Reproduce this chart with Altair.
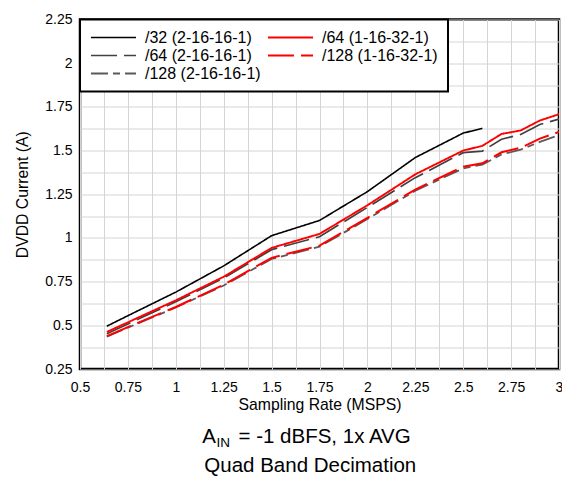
import altair as alt
import pandas as pd

# ---- data ----
# legend order (column-major in the legend box)
series_names = ["/32 (2-16-16-1)", "/64 (2-16-16-1)", "/128 (2-16-16-1)",
                "/64 (1-16-32-1)", "/128 (1-16-32-1)"]
series_colors = ["#000000", "#404040", "#5a5a5a", "#ff0000", "#ff0000"]
series_dashes = [[1, 0], [26, 7], [17, 5, 7, 5], [1, 0], [26, 7]]
series_widths = [1.6, 2.0, 2.0, 2.0, 2.0]

rate_32 = [0.64, 0.75, 1.0, 1.25, 1.5, 1.75, 2.0, 2.25, 2.5, 2.6]
current_32 = [0.495, 0.555, 0.69, 0.84, 1.013, 1.10, 1.265, 1.46, 1.60, 1.627]

rate_full = [0.64, 0.75, 1.0, 1.25, 1.5, 1.75, 2.0, 2.25, 2.5, 2.6, 2.7, 2.8, 2.9, 3.0]
current_64_red = [0.462, 0.517, 0.643, 0.778, 0.943, 1.023, 1.187, 1.364, 1.50, 1.527,
                  1.595, 1.615, 1.672, 1.708]
current_64_gray = [0.452, 0.508, 0.635, 0.77, 0.933, 1.007, 1.175, 1.345, 1.488, 1.497,
                   1.565, 1.592, 1.649, 1.68]
current_128_red = [0.438, 0.49, 0.605, 0.732, 0.886, 0.956, 1.115, 1.277, 1.408, 1.427,
                   1.49, 1.516, 1.568, 1.607]
current_128_gray = [0.435, 0.487, 0.602, 0.728, 0.88, 0.95, 1.108, 1.27, 1.398, 1.42,
                    1.478, 1.505, 1.55, 1.588]

x_grid_values = [0.5, 0.625, 0.75, 0.875, 1.0, 1.125, 1.25, 1.375, 1.5, 1.625, 1.75,
                 1.875, 2.0, 2.125, 2.25, 2.375, 2.5, 2.625, 2.75, 2.875, 3.0]
y_grid_values = [0.25, 0.375, 0.5, 0.625, 0.75, 0.875, 1.0, 1.125, 1.25, 1.375, 1.5,
                 1.625, 1.75, 1.875, 2.0, 2.125, 2.25]

caption_1_main = "A"
caption_1_sub = "IN"
caption_1_rest = " = -1 dBFS, 1x AVG"
caption_2 = "Quad Band Decimation"

# draw order: grays first, then black, then reds on top
frames = [
    pd.DataFrame({"rate": rate_full, "current": current_64_gray, "series": "/64 (2-16-16-1)"}),
    pd.DataFrame({"rate": rate_full, "current": current_128_gray, "series": "/128 (2-16-16-1)"}),
    pd.DataFrame({"rate": rate_32, "current": current_32, "series": "/32 (2-16-16-1)"}),
    pd.DataFrame({"rate": rate_full, "current": current_64_red, "series": "/64 (1-16-32-1)"}),
    pd.DataFrame({"rate": rate_full, "current": current_128_red, "series": "/128 (1-16-32-1)"}),
]
df = pd.concat(frames, ignore_index=True)

FONT = "Liberation Sans"
label_expr = "(datum.value * 4) % 1 == 0 ? '' + datum.value : ''"

lines = alt.Chart(df).mark_line(clip=True).encode(
    x=alt.X("rate:Q",
            scale=alt.Scale(domain=[0.5, 3.0], nice=False, zero=False),
            axis=alt.Axis(values=x_grid_values, labelExpr=label_expr,
                          title="Sampling Rate (MSPS)", titleX=239.5, titleY=40,
                          titleBaseline="alphabetic", titleAlign="center",
                          labelPadding=11, labelFontSize=14, titleFontSize=15.75,
                          labelFont=FONT, titleFont=FONT, labelColor="#000000",
                          titleColor="#000000", titleFontWeight="normal",
                          domain=False, ticks=False, grid=True,
                          gridColor="#d4d4d4", gridWidth=1, labelFlush=False)),
    y=alt.Y("current:Q",
            scale=alt.Scale(domain=[0.25, 2.25], nice=False, zero=False),
            axis=alt.Axis(values=y_grid_values, labelExpr=label_expr,
                          title="DVDD Current (A)", titleX=-58, titleY=174.75,
                          titleAngle=-90, titleBaseline="middle", titleAlign="center",
                          labelPadding=8, labelFontSize=14, titleFontSize=15.75,
                          labelFont=FONT, titleFont=FONT, labelColor="#000000",
                          titleColor="#000000", titleFontWeight="normal",
                          domain=False, ticks=False, grid=True,
                          gridColor="#d4d4d4", gridWidth=1, labelFlush=False)),
    color=alt.Color("series:N",
                    scale=alt.Scale(domain=series_names, range=series_colors),
                    legend=alt.Legend(title=None, orient="top-left", offset=0,
                                      columns=2, columnPadding=6, rowPadding=2,
                                      padding=10, clipHeight=16,
                                      symbolType="stroke", symbolSize=2025,
                                      symbolStrokeWidth=2, labelOffset=8,
                                      labelFontSize=16, labelFont=FONT,
                                      labelColor="#000000", labelLimit=300,
                                      fillColor="#ffffff", strokeColor="#000000")),
    strokeDash=alt.StrokeDash("series:N",
                              scale=alt.Scale(domain=series_names, range=series_dashes),
                              legend=None),
    strokeWidth=alt.StrokeWidth("series:N",
                                scale=alt.Scale(domain=series_names, range=series_widths),
                                legend=None),
)

cap_df = pd.DataFrame({"t": [0]})
cap_a = alt.Chart(cap_df).mark_text(font=FONT, fontSize=20.5, align="left",
                                     baseline="alphabetic", color="#000000").encode(
    x=alt.value(122.3), y=alt.value(423.5), text=alt.value(caption_1_main))
cap_sub = alt.Chart(cap_df).mark_text(font=FONT, fontSize=13.5, align="left",
                                       baseline="alphabetic", color="#000000").encode(
    x=alt.value(136.5), y=alt.value(427), text=alt.value(caption_1_sub))
cap_rest = alt.Chart(cap_df).mark_text(font=FONT, fontSize=20.5, align="left",
                                        baseline="alphabetic", color="#000000").encode(
    x=alt.value(158.5), y=alt.value(423.5), text=alt.value(caption_1_rest))
cap_2 = alt.Chart(cap_df).mark_text(font=FONT, fontSize=20.5, align="center",
                                     baseline="alphabetic", color="#000000").encode(
    x=alt.value(230.3), y=alt.value(452.5), text=alt.value(caption_2))

chart = alt.layer(lines, cap_a, cap_sub, cap_rest, cap_2).properties(
    width=479, height=349.5,
    autosize=alt.AutoSizeParams(type="none"),
    padding={"left": 72, "top": 11.5, "right": 3, "bottom": 109},
    background="#ffffff",
).configure_view(stroke="#000000", strokeWidth=2.5
).configure_legend(strokeWidth=2)

chart.save("out.html", embed_options={"renderer": "svg", "actions": False})
